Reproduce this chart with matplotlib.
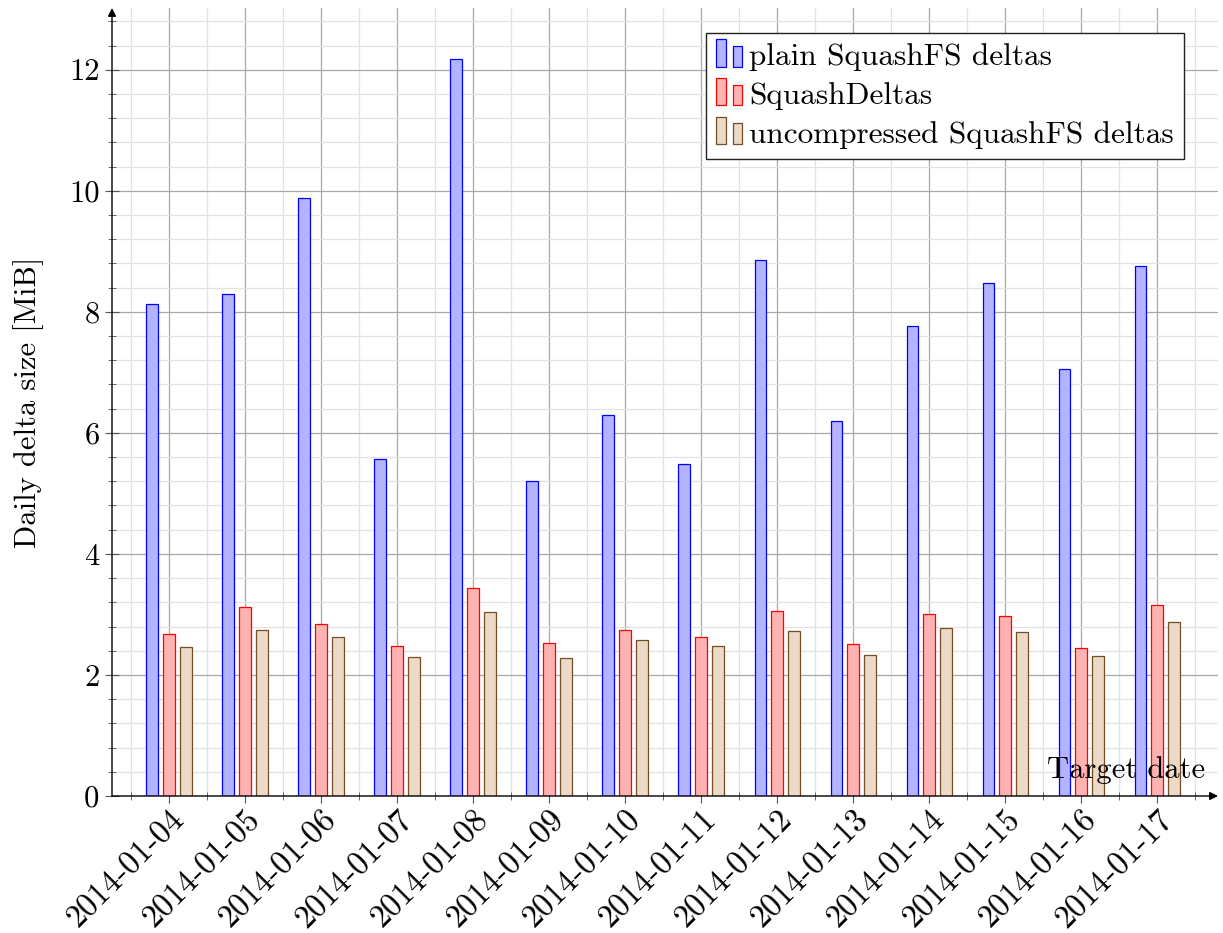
## bar chart of daily delta sizes
import matplotlib
matplotlib.use('Agg')
import matplotlib.pyplot as plt
from matplotlib.container import BarContainer
from matplotlib.legend_handler import HandlerBase
from matplotlib.patches import Rectangle
from matplotlib.ticker import MultipleLocator
import numpy as np

## data
dates = ['2014-01-04', '2014-01-05', '2014-01-06', '2014-01-07', '2014-01-08',
         '2014-01-09', '2014-01-10', '2014-01-11', '2014-01-12', '2014-01-13',
         '2014-01-14', '2014-01-15', '2014-01-16', '2014-01-17']
plainSquash = [8.13, 8.29, 9.88, 5.57, 12.18, 5.20, 6.30, 5.49, 8.86, 6.20,
               7.77, 8.47, 7.05, 8.75]
squashDeltas = [2.68, 3.12, 2.85, 2.48, 3.43, 2.53, 2.75, 2.63, 3.05, 2.51,
                3.00, 2.97, 2.44, 3.15]
uncompSquash = [2.46, 2.74, 2.62, 2.29, 3.04, 2.28, 2.58, 2.48, 2.72, 2.33,
                2.77, 2.71, 2.31, 2.88]
seriesNames = ['plain SquashFS deltas', 'SquashDeltas', 'uncompressed SquashFS deltas']

plt.rcParams['font.family'] = 'cmr10'
plt.rcParams['axes.formatter.use_mathtext'] = True
plt.rcParams['font.size'] = 22


## legend marker: two small bars like pgfplots
class BarPairHandler(HandlerBase):
    def create_artists(self, legend, orig_handle, xdescent, ydescent,
                       width, height, fontsize, trans):
        p = orig_handle.patches[0]
        fc, ec = p.get_facecolor(), p.get_edgecolor()
        w = 6.5
        r1 = Rectangle((-xdescent, -1), w, 19.5, fc=fc, ec=ec, lw=0.9, transform=trans)
        r2 = Rectangle((-xdescent + w + 5.2, -1), w, 15.0, fc=fc, ec=ec, lw=0.9,
                       transform=trans)
        return [r1, r2]


fig = plt.figure(figsize=(12.23, 9.33), dpi=100)
ax = fig.add_axes([112 / 1223, 137 / 933, 1106 / 1223, 788 / 933])

x = np.arange(len(dates))
off = 0.22
bw = 0.155
b1 = ax.bar(x - off, plainSquash, bw, color=(0.7, 0.7, 1.0), edgecolor='blue', lw=0.9,
            label=seriesNames[0], zorder=3)
b2 = ax.bar(x, squashDeltas, bw, color=(1.0, 0.7, 0.7), edgecolor='red', lw=0.9,
            label=seriesNames[1], zorder=3)
b3 = ax.bar(x + off, uncompSquash, bw, color=(0.925, 0.85, 0.775),
            edgecolor=(0.45, 0.3, 0.15), lw=0.9, label=seriesNames[2], zorder=3)

ax.set_xlim(-0.75, 13.8)
ax.set_ylim(0, 13.02)

ax.set_xticks(x)
ax.set_xticklabels(dates, rotation=45, ha='right', rotation_mode='anchor', fontsize=23.5)
ax.set_xticks(np.arange(-0.5, 14, 1.0), minor=True)
ax.set_yticks(np.arange(0, 13, 2))
ax.set_yticklabels([str(v) for v in range(0, 13, 2)])
ax.yaxis.set_minor_locator(MultipleLocator(0.4))

ax.tick_params(which='major', direction='inout', length=10, width=0.8, color='#555555', pad=4)
ax.tick_params(which='minor', direction='inout', length=6, width=0.6, color='#555555')
ax.tick_params(axis='x', which='major', pad=1)

ax.grid(which='major', color='#a8a8a8', lw=0.9)
ax.grid(which='minor', color='#e2e2e2', lw=0.9)
ax.set_axisbelow(True)

for s in ax.spines.values():
    s.set_visible(False)
ax.annotate('', xy=(1.0, 0), xytext=(0, 0), xycoords='axes fraction',
            arrowprops=dict(arrowstyle='-|>', color='k', lw=1.0, mutation_scale=12,
                            shrinkA=0, shrinkB=0), annotation_clip=False)
ax.annotate('', xy=(0, 1.0), xytext=(0, 0), xycoords='axes fraction',
            arrowprops=dict(arrowstyle='-|>', color='k', lw=1.0, mutation_scale=12,
                            shrinkA=0, shrinkB=0), annotation_clip=False)

ax.set_ylabel('Daily delta size [MiB]', labelpad=18)
ax.text(13.63, 0.30, 'Target date', ha='right', va='baseline', zorder=5)

leg = ax.legend(handles=[b1, b2, b3], labels=seriesNames,
                handler_map={BarContainer: BarPairHandler()},
                loc='upper right', bbox_to_anchor=(0.9693, 0.968), borderaxespad=0,
                fancybox=False, framealpha=1, edgecolor='#222222', fontsize=22.5,
                handlelength=0.85, handletextpad=0.2, labelspacing=0.35,
                borderpad=0.32)
leg.get_frame().set_linewidth(1.0)

plt.savefig('out.png')
